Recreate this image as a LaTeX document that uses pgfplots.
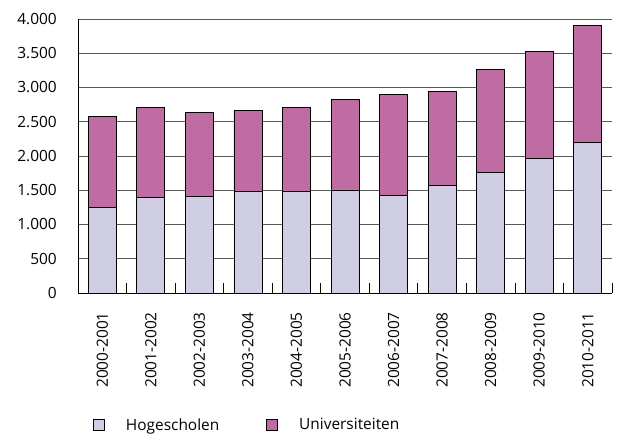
\documentclass[border=0pt]{standalone}
\usepackage{pgfplots}
\pgfplotsset{compat=1.18}
\usepackage{fontspec}
\setmainfont{Open Sans}
\definecolor{hoge}{RGB}{208,206,226}
\definecolor{univ}{RGB}{190,108,162}
\begin{document}
\begin{tikzpicture}
\begin{axis}[name=ax, scale only axis, width=534bp, height=274bp,
  ybar stacked, bar width=28bp,
  xmin=-0.5, xmax=10.5, ymin=0, ymax=4000,
  xtick={0,...,10},
  xticklabels={2000-2001,2001-2002,2002-2003,2003-2004,2004-2005,2005-2006,2006-2007,2007-2008,2008-2009,2009-2010,2010-2011},
  minor xtick={0.5,1.5,...,10.5},
  ytick={0,500,...,4000},
  axis lines*=left,
  axis line style={black, line width=0.8bp},
  ymajorgrids, grid style={black!65, line width=0.8bp},
  major tick length=0pt, minor tick length=10bp, tick align=inside,
  minor x tick style={black, line width=0.8bp},
  major tick style={draw=none},
  /pgf/number format/1000 sep={.},
  /pgf/number format/assume math mode=true,
  tick label style={font=\fontsize{15.5}{18}\selectfont},
  yticklabel style={inner sep=0pt, anchor=east},
  yticklabel shift=21bp,
  xticklabel style={rotate=90, anchor=east, inner sep=0pt},
  xticklabel shift=19bp,
  every axis plot post/.append style={legend image code/.code={\draw[##1, draw=black, line width=0.8bp] (0bp,-5.5bp) rectangle (11bp,5.5bp);}},
  legend style={at={(axis description cs:0.028,-0.482)}, anchor=west, draw=none, fill=none,
    font=\fontsize{15.5}{18}\selectfont, inner sep=0pt, legend columns=2,
    nodes={inner sep=0pt}, column sep=21bp,
    /tikz/column 2/.style={column sep=47bp}},
]
\addplot[fill=hoge, draw=black, line width=0.8bp] coordinates {(0,1245) (1,1395) (2,1410) (3,1480) (4,1480) (5,1505) (6,1420) (7,1565) (8,1760) (9,1960) (10,2200)};
\addplot[fill=univ, draw=black, line width=0.8bp] coordinates {(0,1330) (1,1315) (2,1230) (3,1185) (4,1230) (5,1325) (6,1480) (7,1380) (8,1505) (9,1565) (10,1705)};
\legend{Hogescholen, Universiteiten}
\end{axis}
\path ([shift={(-78bp,-141bp)}]ax.south west) rectangle ([shift={(8bp,19bp)}]ax.north east);
\end{tikzpicture}
\end{document}
